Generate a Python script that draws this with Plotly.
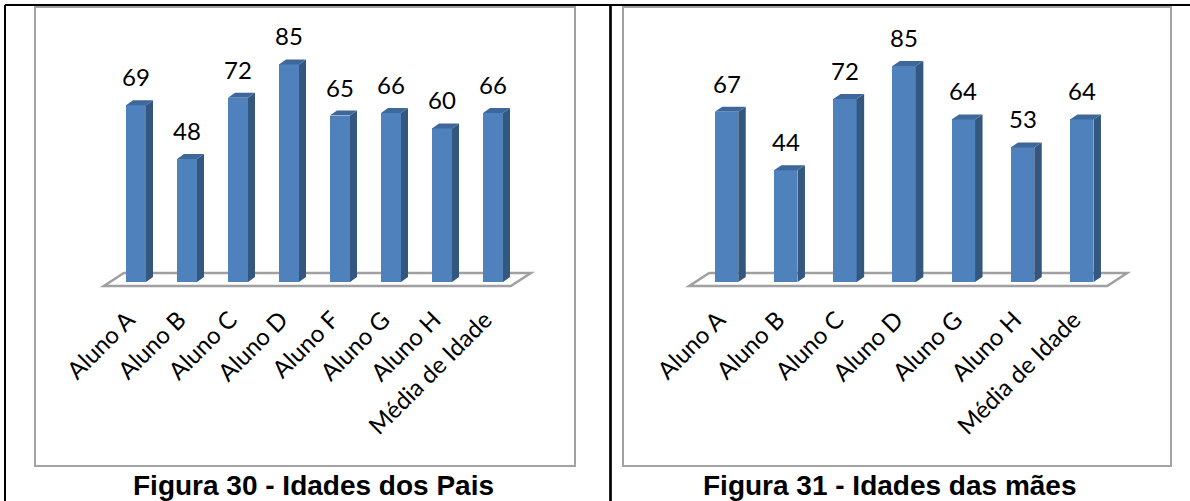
import plotly.graph_objects as go

W, H = 1190, 501

# Figura 30 - idades dos pais
pais_alunos = ["Aluno A", "Aluno B", "Aluno C", "Aluno D", "Aluno F", "Aluno G", "Aluno H", "Média de Idade"]
pais_idades = [69, 48, 72, 85, 65, 66, 60, 66]

# Figura 31 - idades das mães
maes_alunos = ["Aluno A", "Aluno B", "Aluno C", "Aluno D", "Aluno G", "Aluno H", "Média de Idade"]
maes_idades = [67, 44, 72, 85, 64, 53, 64]

titulos = ["Figura 30 - Idades dos Pais", "Figura 31 - Idades das mães"]

FRONT = "#4F81BD"
SIDE = "#34577F"
TOP = "#3E689C"
FRAME = "#A3A3A3"
LABEL_FONT = "Lato"


def fx(p):
    return p / W


def fy(p):
    return 1 - p / H


# pixel geometry of each panel: frame box, first bar centre, bar pitch,
# bar face width, 3D depth, pixels per year and baseline
panels = [
    dict(alunos=pais_alunos, idades=pais_idades, titulo=titulos[0], xa="x", ya="y",
         frame=(35, 7, 575, 466), c0=136, pitch=51, barw=20, depth=7, bevel=5,
         ppy=2.56, base=282, floor_l=-0.63, floor_r=0.35, title_x=313),
    dict(alunos=maes_alunos, idades=maes_idades, titulo=titulos[1], xa="x2", ya="y2",
         frame=(623, 7, 1171, 466), c0=726.5, pitch=59.2, barw=23.5, depth=7.5, bevel=5,
         ppy=2.54, base=282, floor_l=-0.63, floor_r=0.43, title_x=890),
]

fig = go.Figure()
shapes = []
annotations = []
layout_axes = {}

for k, p in enumerate(panels):
    l, t, r, b = p["frame"]
    unit = p["pitch"]
    xr = [(l - p["c0"]) / unit, (r - p["c0"]) / unit]
    yr = [-(b - p["base"]) / p["ppy"], (p["base"] - t) / p["ppy"]]
    w = p["barw"] / unit
    dx = p["depth"] / unit
    dy = p["bevel"] / p["ppy"]
    n = len(p["idades"])
    idx = list(range(n))

    # front faces
    fig.add_trace(go.Bar(x=idx, y=p["idades"], width=w, marker=dict(color=FRONT, line_width=0),
                         xaxis=p["xa"], yaxis=p["ya"], hoverinfo="skip", showlegend=False))

    # side and top faces of each column
    sx, sy, tx, ty = [], [], [], []
    for i, v in zip(idx, p["idades"]):
        xr_edge = i + w / 2
        xl_edge = i - w / 2
        sx += [xr_edge, xr_edge + dx, xr_edge + dx, xr_edge, xr_edge, None]
        sy += [0, dy, v + dy, v, 0, None]
        tx += [xl_edge, xl_edge + dx, xr_edge + dx, xr_edge, xl_edge, None]
        ty += [v, v + dy, v + dy, v, v, None]
    fig.add_trace(go.Scatter(x=sx, y=sy, mode="lines", fill="toself", fillcolor=SIDE,
                             line=dict(width=0, color=SIDE), xaxis=p["xa"], yaxis=p["ya"],
                             hoverinfo="skip", showlegend=False))
    fig.add_trace(go.Scatter(x=tx, y=ty, mode="lines", fill="toself", fillcolor=TOP,
                             line=dict(width=0, color=TOP), xaxis=p["xa"], yaxis=p["ya"],
                             hoverinfo="skip", showlegend=False))

    # value labels
    for i, v in zip(idx, p["idades"]):
        annotations.append(dict(x=i, y=v, xref=p["xa"], yref=p["ya"], text=str(v),
                                showarrow=False, yanchor="bottom", yshift=12,
                                font=dict(family=LABEL_FONT, size=24, color="black")))

    # floor of the 3D chart
    f_front = -4 / p["ppy"]
    f_back = (p["base"] - 273) / p["ppy"]
    f_dx = 20 / unit
    x0 = p["floor_l"]
    x1 = n - 1 + p["floor_r"]
    shapes.append(dict(type="path", xref=p["xa"], yref=p["ya"], layer="below",
                       path=f"M {x0},{f_front} L {x1},{f_front} L {x1 + f_dx},{f_back} L {x0 + f_dx},{f_back} Z",
                       fillcolor="white", line=dict(color="#A0A0A0", width=2.5)))

    # chart frame
    shapes.append(dict(type="rect", xref="paper", yref="paper", layer="below",
                       x0=fx(l), x1=fx(r), y0=fy(b), y1=fy(t),
                       line=dict(color=FRAME, width=2), fillcolor="rgba(0,0,0,0)"))

    # caption
    annotations.append(dict(x=fx(p["title_x"]), y=fy(485), xref="paper", yref="paper",
                            text=f"<b>{p['titulo']}</b>", showarrow=False,
                            xanchor="center", yanchor="middle",
                            font=dict(family="Liberation Sans", size=28, color="black")))

    xname = "xaxis" if k == 0 else "xaxis2"
    yname = "yaxis" if k == 0 else "yaxis2"
    layout_axes[xname] = dict(domain=[fx(l), fx(r)], range=xr, anchor="free", position=fy(300),
                              tickvals=idx, ticktext=p["alunos"], tickangle=-45,
                              ticklabelshift=-8,
                              showgrid=False, zeroline=False, showline=False, ticks="",
                              tickfont=dict(family=LABEL_FONT, size=24, color="black"),
                              fixedrange=True)
    layout_axes[yname] = dict(domain=[fy(b), fy(t)], range=yr, anchor=p["xa"],
                              showgrid=False, zeroline=False, showline=False,
                              showticklabels=False, ticks="", fixedrange=True)

# table borders
for line in [
    dict(x0=fx(5), x1=1.0, y0=fy(5), y1=fy(5), w=2),
    dict(x0=fx(5), x1=fx(5), y0=0, y1=fy(5), w=2),
    dict(x0=fx(610.5), x1=fx(610.5), y0=0, y1=fy(5), w=2.7),
]:
    shapes.append(dict(type="line", xref="paper", yref="paper", x0=line["x0"], x1=line["x1"],
                       y0=line["y0"], y1=line["y1"], line=dict(color="black", width=line["w"])))

fig.update_layout(width=W, height=H, margin=dict(l=0, r=0, t=0, b=0),
                  paper_bgcolor="white", plot_bgcolor="white", showlegend=False,
                  bargap=0, shapes=shapes, annotations=annotations, **layout_axes)

fig.write_html("out.html")
